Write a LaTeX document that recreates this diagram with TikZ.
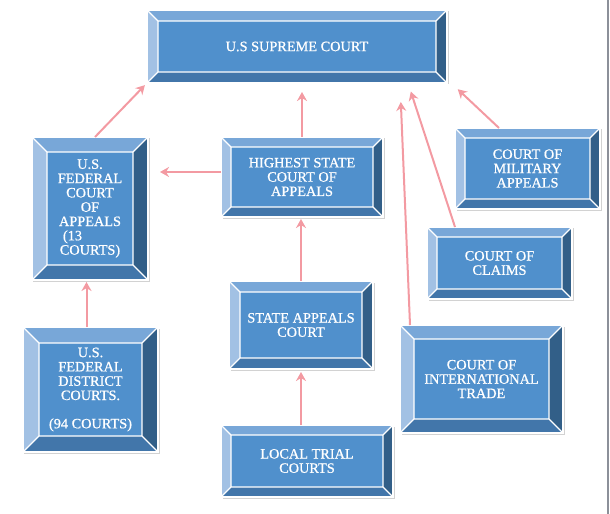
\documentclass[tikz,border=0pt]{standalone}
\usepackage{fontspec}
\setmainfont{Liberation Serif}
\newfontfamily\courtface[FakeBold=0.8]{Liberation Serif}
\usetikzlibrary{arrows.meta,calc,shadows}
\definecolor{courtblue}{HTML}{5090CC}
\definecolor{courttop}{HTML}{78A7D8}
\definecolor{courtleft}{HTML}{A2C1E4}
\definecolor{courtright}{HTML}{325F88}
\definecolor{courtbottom}{HTML}{4276AA}
\definecolor{linkpink}{HTML}{F39AA2}
\definecolor{pageedge}{HTML}{8C9099}

\begin{document}
\begin{tikzpicture}[x=1bp, y=-1bp,
    bevelsize/.store in=\bevelw, bevelsize=11,
    court/.style={rectangle, draw=white, line width=1.2bp, fill=courtblue, inner sep=0pt, outer sep=0pt,
      align=center, text=white, font=\courtface\fontsize{14.3bp}{14.3bp}\selectfont,
      drop shadow={shadow xshift=1.5bp, shadow yshift=-1.5bp, fill=black!25, opacity=0.7},
      path picture={
        \coordinate (NW) at (path picture bounding box.north west);
        \coordinate (NE) at (path picture bounding box.north east);
        \coordinate (SE) at (path picture bounding box.south east);
        \coordinate (SW) at (path picture bounding box.south west);
        \coordinate (nw) at ([shift={(\bevelw bp,-\bevelw bp)}]NW);
        \coordinate (ne) at ([shift={(-\bevelw bp,-\bevelw bp)}]NE);
        \coordinate (se) at ([shift={(-\bevelw bp,\bevelw bp)}]SE);
        \coordinate (sw) at ([shift={(\bevelw bp,\bevelw bp)}]SW);
        \fill[courttop] (NW) -- (NE) -- (ne) -- (nw) -- cycle;
        \fill[courtleft] (NW) -- (nw) -- (sw) -- (SW) -- cycle;
        \fill[courtright] (NE) -- (SE) -- (se) -- (ne) -- cycle;
        \fill[courtbottom] (SW) -- (sw) -- (se) -- (SE) -- cycle;
        \draw[white, line width=1.2bp] (nw) rectangle (se) (NW) -- (nw) (NE) -- (ne) (SE) -- (se) (SW) -- (sw);
      }},
    link/.style={draw=linkpink, line width=2bp, -{Stealth[length=9bp, width=10bp]}}]
    \useasboundingbox (0,0) rectangle (610,514);
    \draw[pageedge, line width=1.5bp] (608,0) -- (608,514);

    \node[court, bevelsize=11, minimum width=300bp, minimum height=73bp] (supreme) at (297,46.5) {U.S SUPREME COURT};
    \node[court, bevelsize=15, minimum width=116bp, minimum height=143bp] (fedappeals) at (90,208.5) {U.S.\\FEDERAL\\COURT\\OF\\APPEALS\\(13\hspace{35bp}\mbox{}\\COURTS)};
    \node[court, bevelsize=10, minimum width=162bp, minimum height=80bp] (highest) at (302,177) {HIGHEST STATE\\COURT OF\\APPEALS};
    \node[court, bevelsize=10, minimum width=145bp, minimum height=81bp] (military) at (527.5,168.5) {COURT OF\\MILITARY\\APPEALS};
    \node[court, bevelsize=10, minimum width=145bp, minimum height=72bp] (claims) at (499.5,263) {COURT OF\\CLAIMS};
    \node[court, bevelsize=14, minimum width=163bp, minimum height=108bp] (trade) at (481.5,379) {COURT OF\\INTERNATIONAL\\TRADE};
    \node[court, bevelsize=16, minimum width=135bp, minimum height=125bp] (district) at (90.5,389.5) {U.S.\\FEDERAL\\DISTRICT\\COURTS.\\[14bp](94 COURTS)};
    \node[court, bevelsize=11, minimum width=144bp, minimum height=88bp] (stateappeals) at (301,325) {STATE APPEALS\\COURT};
    \node[court, bevelsize=10, minimum width=172bp, minimum height=72bp] (localtrial) at (307,461) {LOCAL TRIAL\\COURTS};

    \draw[link, shorten >=3bp] ([xshift=5bp]fedappeals.north) -- (supreme.south west);
    \draw[link, shorten >=9bp] (highest.north) -- (highest.north |- supreme.south);
    \draw[link, shorten >=12bp] ([yshift=5bp]highest.west) -- ([yshift=5bp]highest.west -| fedappeals.east);
    \draw[link, shorten >=2bp] ([xshift=-4bp]district.north) -- ([xshift=-4bp]district.north |- fedappeals.south);
    \draw[link, shorten >=2bp] (stateappeals.north) -- (stateappeals.north |- highest.south);
    \draw[link, shorten >=3bp] (stateappeals.south |- localtrial.north) -- (stateappeals.south);
    \draw[link, shorten >=19bp] ([xshift=10bp]trade.north west) -- ($(supreme.south)!0.687!(supreme.south east)$);
    \draw[link, shorten >=9bp] ([xshift=28bp]claims.north west) -- ($(supreme.south)!0.74!(supreme.south east)$);
    \draw[link, shorten >=12bp] ([xshift=44bp]military.north west) -- ([shift={(2bp,2bp)}]supreme.south east);
\end{tikzpicture}
\end{document}
